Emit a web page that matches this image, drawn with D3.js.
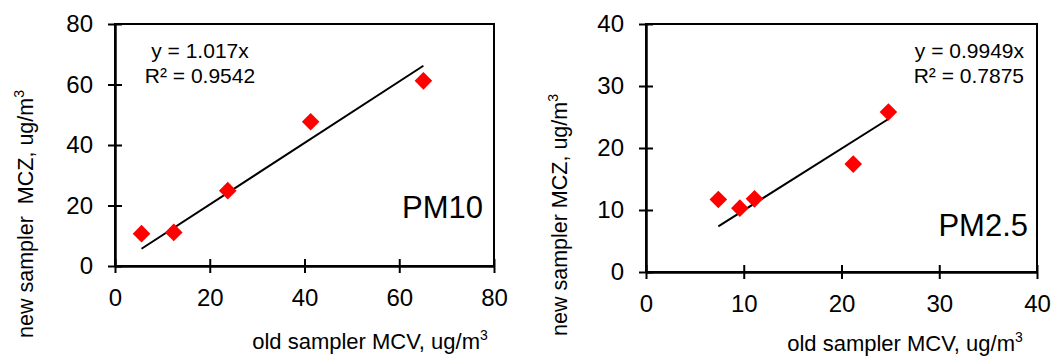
<!DOCTYPE html>
<html>
<head>
<meta charset="utf-8">
<script src="https://cdn.jsdelivr.net/npm/d3@7"></script>
<style>
  html, body { margin: 0; padding: 0; background: #fff; }
  svg { display: block; font-family: "Liberation Sans", Arial, sans-serif; }
</style>
</head>
<body>
<svg id="chart" width="1054" height="356"></svg>
<script>
// PM10 panel
const pm10Old = [5.6, 12.4, 23.8, 41.3, 65.1];
const pm10New = [10.7, 11.1, 24.9, 47.7, 61.2];
const pm10Ticks = [0, 20, 40, 60, 80];

// PM2.5 panel
const pm25Old = [7.4, 9.6, 11.1, 21.2, 24.8];
const pm25New = [11.7, 10.3, 11.8, 17.4, 25.8];
const pm25Ticks = [0, 10, 20, 30, 40];

const slopes = [1.017, 0.9949];
const eqLines = [['y = 1.017x', 'R² = 0.9542'], ['y = 0.9949x', 'R² = 0.7875']];
const panelNames = ['PM10', 'PM2.5'];
const xTitle = 'old sampler MCV, ug/m';
const yTitles = ['new sampler  MCZ, ug/m', 'new sampler MCZ, ug/m'];

const svg = d3.select('#chart');

const panels = [
  { xs: pm10Old, ys: pm10New, ticks: pm10Ticks, max: 80, box: [115, 494, 24, 266],
    eq: { x: 200, anchor: 'middle' }, name: { x: 483, y: 218 },
    xt: { x: 370, y: 349 }, yt: { x: 33, y: 214 } },
  { xs: pm25Old, ys: pm25New, ticks: pm25Ticks, max: 40, box: [646, 1037, 24, 272],
    eq: { x: 1024, anchor: 'end' }, name: { x: 1028, y: 236 },
    xt: { x: 905, y: 351 }, yt: { x: 567, y: 215 } }
];

const TICK = 7;

panels.forEach((p, i) => {
  const [x0, x1, y0, y1] = p.box;
  const x = d3.scaleLinear().domain([0, p.max]).range([x0, x1]);
  const y = d3.scaleLinear().domain([0, p.max]).range([y1, y0]);
  const g = svg.append('g');

  // frame (top and right)
  g.append('rect')
    .attr('x', x0).attr('y', y0)
    .attr('width', x1 - x0).attr('height', y1 - y0)
    .attr('fill', 'none').attr('stroke', '#000').attr('stroke-width', 2);

  const xAxis = g.append('g')
    .attr('transform', `translate(0,${y1})`)
    .call(d3.axisBottom(x).tickValues(p.ticks).tickSize(TICK).tickSizeOuter(0).tickPadding(16));
  const yAxis = g.append('g')
    .attr('transform', `translate(${x0},0)`)
    .call(d3.axisLeft(y).tickValues(p.ticks).tickSize(TICK).tickSizeOuter(0).tickPadding(15));

  // cross tick marks, like the spreadsheet
  xAxis.selectAll('.tick line').attr('y1', -TICK).attr('y2', TICK);
  yAxis.selectAll('.tick line').attr('x1', TICK).attr('x2', -TICK);
  [xAxis, yAxis].forEach(a => {
    a.select('.domain').attr('stroke-width', 2.5);
    a.selectAll('.tick line').attr('stroke-width', 2);
    a.selectAll('text').attr('font-size', 24).attr('fill', '#000')
      .attr('font-family', '"Liberation Sans", Arial, sans-serif');
  });

  // trendline through origin
  const ext = d3.extent(p.xs);
  g.append('path')
    .datum(ext)
    .attr('d', d3.line().x(d => x(d)).y(d => y(slopes[i] * d)))
    .attr('stroke', '#000').attr('stroke-width', 2).attr('fill', 'none');

  // points
  g.selectAll('path.pt')
    .data(p.xs.map((v, k) => [v, p.ys[k]]))
    .join('path')
    .attr('class', 'pt')
    .attr('d', d3.symbol(d3.symbolSquare, 155))
    .attr('transform', d => `translate(${x(d[0])},${y(d[1])}) rotate(45)`)
    .attr('fill', '#ff0000');

  // equation
  eqLines[i].forEach((t, k) => {
    g.append('text')
      .attr('x', p.eq.x).attr('y', 58 + k * 25)
      .attr('text-anchor', p.eq.anchor)
      .attr('font-size', 21)
      .text(t);
  });

  // panel name
  g.append('text')
    .attr('x', p.name.x).attr('y', p.name.y)
    .attr('text-anchor', 'end')
    .attr('font-size', 31)
    .text(panelNames[i]);

  // axis titles
  const xt = g.append('text')
    .attr('x', p.xt.x).attr('y', p.xt.y)
    .attr('text-anchor', 'middle').attr('font-size', 22);
  xt.append('tspan').text(xTitle);
  xt.append('tspan').attr('font-size', 14).attr('dy', -9).text('3');

  const yt = g.append('text')
    .attr('transform', `translate(${p.yt.x},${p.yt.y}) rotate(-90)`)
    .attr('text-anchor', 'middle').attr('font-size', 21.5)
    .attr('xml:space', 'preserve');
  yt.append('tspan').text(yTitles[i]);
  yt.append('tspan').attr('font-size', 14).attr('dy', -9).text('3');
});
</script>
</body>
</html>
